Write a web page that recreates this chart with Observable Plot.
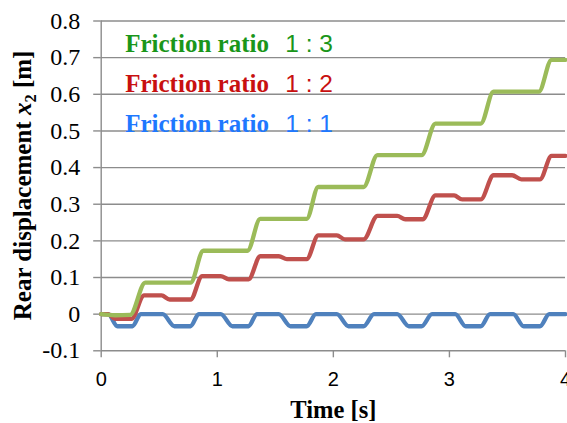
<!DOCTYPE html>
<html>
<head>
<meta charset="utf-8">
<script src="https://cdn.jsdelivr.net/npm/d3@7"></script>
<script src="https://cdn.jsdelivr.net/npm/@observablehq/plot@0.6"></script>
<style>
  html, body { margin: 0; padding: 0; background: #fff; }
  svg text.serif, svg .serif text { font-family: Liberation Serif, Times New Roman, Tinos, DejaVu Serif, serif !important; }
  svg .sans text { font-family: Liberation Sans, Arial, Arimo, sans-serif !important; }
</style>
</head>
<body>
<div id="chart"></div>
<script>
// ---- data ----
const xTicks = [0, 1, 2, 3, 4];
const yTicks = [-0.1, 0, 0.1, 0.2, 0.3, 0.4, 0.5, 0.6, 0.7, 0.8];

const seriesNames = ["Friction ratio 1 : 1", "Friction ratio 1 : 2", "Friction ratio 1 : 3"];
const legendLabels = ["Friction ratio", "Friction ratio", "Friction ratio"];
const legendRatios = ["1 : 1", "1 : 2", "1 : 3"];

// Friction ratio 1:1 (blue)
const time11 = [0, 0.06, 0.14, 0.27, 0.34, 0.53, 0.63, 0.77, 0.84, 1.03, 1.13, 1.27, 1.34, 1.53, 1.63, 1.77, 1.85, 2.03, 2.13, 2.26, 2.35, 2.55, 2.65, 2.76, 2.85, 3.05, 3.14, 3.27, 3.35, 3.55, 3.64, 3.78, 3.86, 4.0];
const disp11 = [0, 0, -0.033, -0.033, 0, 0, -0.033, -0.033, 0, 0, -0.033, -0.033, 0, 0, -0.033, -0.033, 0, 0, -0.033, -0.033, 0, 0, -0.033, -0.033, 0, 0, -0.033, -0.033, 0, 0, -0.033, -0.033, 0, 0];

// Friction ratio 1:2 (red)
const time12 = [0, 0.06, 0.12, 0.26, 0.37, 0.52, 0.59, 0.77, 0.87, 1.03, 1.1, 1.27, 1.37, 1.53, 1.6, 1.77, 1.87, 2.03, 2.1, 2.26, 2.38, 2.55, 2.62, 2.77, 2.88, 3.04, 3.11, 3.27, 3.38, 3.54, 3.62, 3.78, 3.88, 4.0];
const disp12 = [0, 0, -0.013, -0.013, 0.051, 0.051, 0.04, 0.04, 0.104, 0.104, 0.095, 0.095, 0.158, 0.158, 0.15, 0.15, 0.215, 0.215, 0.204, 0.204, 0.268, 0.268, 0.259, 0.259, 0.324, 0.324, 0.313, 0.313, 0.379, 0.379, 0.368, 0.368, 0.432, 0.432];

// Friction ratio 1:3 (green)
const time13 = [0, 0.12, 0.25, 0.38, 0.77, 0.88, 1.26, 1.37, 1.77, 1.87, 2.26, 2.38, 2.76, 2.88, 3.27, 3.38, 3.77, 3.88, 4.0];
const disp13 = [0, -0.003, -0.002, 0.086, 0.086, 0.173, 0.173, 0.26, 0.26, 0.347, 0.347, 0.434, 0.434, 0.52, 0.52, 0.607, 0.607, 0.694, 0.694];

// ---- build tables ----
const toRows = (ts, vs, s) => ts.map((t, i) => ({t, v: vs[i], s}));
const rows11 = toRows(time11, disp11, seriesNames[0]);
const rows12 = toRows(time12, disp12, seriesNames[1]);
const rows13 = toRows(time13, disp13, seriesNames[2]);

const lineColors = ["#4F81BD", "#C0504D", "#9BBB59"];
const textColors = ["#1E78FF", "#C81010", "#1A961A"];
const gridColor = "#8C8C8C";
const serif = "Liberation Serif, Times New Roman, serif";
const sans = "Liberation Sans, Arial, sans-serif";
const fmtY = d => d === 0 ? "0" : d.toFixed(1);

const legendDy = [111.2, 71.2, 31.2];

const chart = Plot.plot({
  width: 567,
  height: 423,
  marginLeft: 100.7,
  marginRight: 2,
  marginTop: 20.5,
  marginBottom: 72.7,
  x: {domain: [0, 4]},
  y: {domain: [-0.1, 0.8]},
  style: {background: "white", fontFamily: serif, overflow: "hidden"},
  marks: [
    Plot.gridY(yTicks, {stroke: gridColor, strokeOpacity: 1, strokeWidth: 1.4}),
    Plot.ruleX([0], {y1: -0.1, y2: 0.8, stroke: gridColor, strokeWidth: 1.4}),
    Plot.axisY(yTicks, {tickSize: 7.5, stroke: gridColor, strokeWidth: 1.4, tickFormat: () => "", label: null}),
    Plot.axisX(xTicks, {tickSize: 7, stroke: gridColor, strokeWidth: 1.4, tickFormat: () => "", label: null}),
    // tick labels
    Plot.text(yTicks, {
      y: d => d, text: fmtY, frameAnchor: "left", dx: -21, textAnchor: "end", lineAnchor: "middle",
      fill: "black", fontSize: 24, fontFamily: serif, className: "serif"
    }),
    Plot.text(xTicks, {
      x: d => d, text: d => String(d), frameAnchor: "bottom", dy: 21, lineAnchor: "top",
      fill: "black", fontSize: 20, fontFamily: sans, className: "sans"
    }),
    // legend-style labels
    ...legendLabels.map((lab, i) => Plot.text([lab], {
      frameAnchor: "top-left", dx: 24, dy: legendDy[i], lineAnchor: "bottom",
      textAnchor: "start", fill: textColors[i], fontSize: 25, fontWeight: "bold",
      fontFamily: serif, className: "serif"
    })),
    ...legendRatios.map((lab, i) => Plot.text([lab], {
      frameAnchor: "top-left", dx: 184, dy: legendDy[i], lineAnchor: "bottom",
      textAnchor: "start", fill: textColors[i], fontSize: 24.5, fontFamily: sans, className: "sans"
    })),
    Plot.line(rows11, {x: "t", y: "v", stroke: lineColors[0], strokeWidth: 4.3, curve: "monotone-x", strokeLinejoin: "round"}),
    Plot.line(rows12, {x: "t", y: "v", stroke: lineColors[1], strokeWidth: 4.3, curve: "monotone-x", strokeLinejoin: "round"}),
    Plot.line(rows13, {x: "t", y: "v", stroke: lineColors[2], strokeWidth: 4.3, curve: "monotone-x", strokeLinejoin: "round"}),
    // x axis title
    Plot.text(["Time [s]"], {
      frameAnchor: "bottom", dy: 67.5, lineAnchor: "bottom",
      fill: "black", fontSize: 24.5, fontWeight: "bold", fontFamily: serif, className: "serif"
    })
  ]
});

document.getElementById("chart").appendChild(chart);

// y axis title with italic x and subscript 2
const yScale = chart.scale("y");
const cy = (yScale.range[0] + yScale.range[1]) / 2;
const t = d3.select(chart).append("text")
  .attr("class", "serif")
  .attr("transform", `translate(31,${cy}) rotate(-90)`)
  .attr("text-anchor", "middle")
  .attr("font-family", serif)
  .attr("font-weight", "bold")
  .attr("font-size", 25)
  .attr("fill", "black");
t.append("tspan").text("Rear displacement ");
t.append("tspan").attr("font-style", "italic").text("x");
t.append("tspan").attr("font-size", 16.5).attr("dy", 5).text("2");
t.append("tspan").attr("dy", -5).text(" [m]");
</script>
</body>
</html>
